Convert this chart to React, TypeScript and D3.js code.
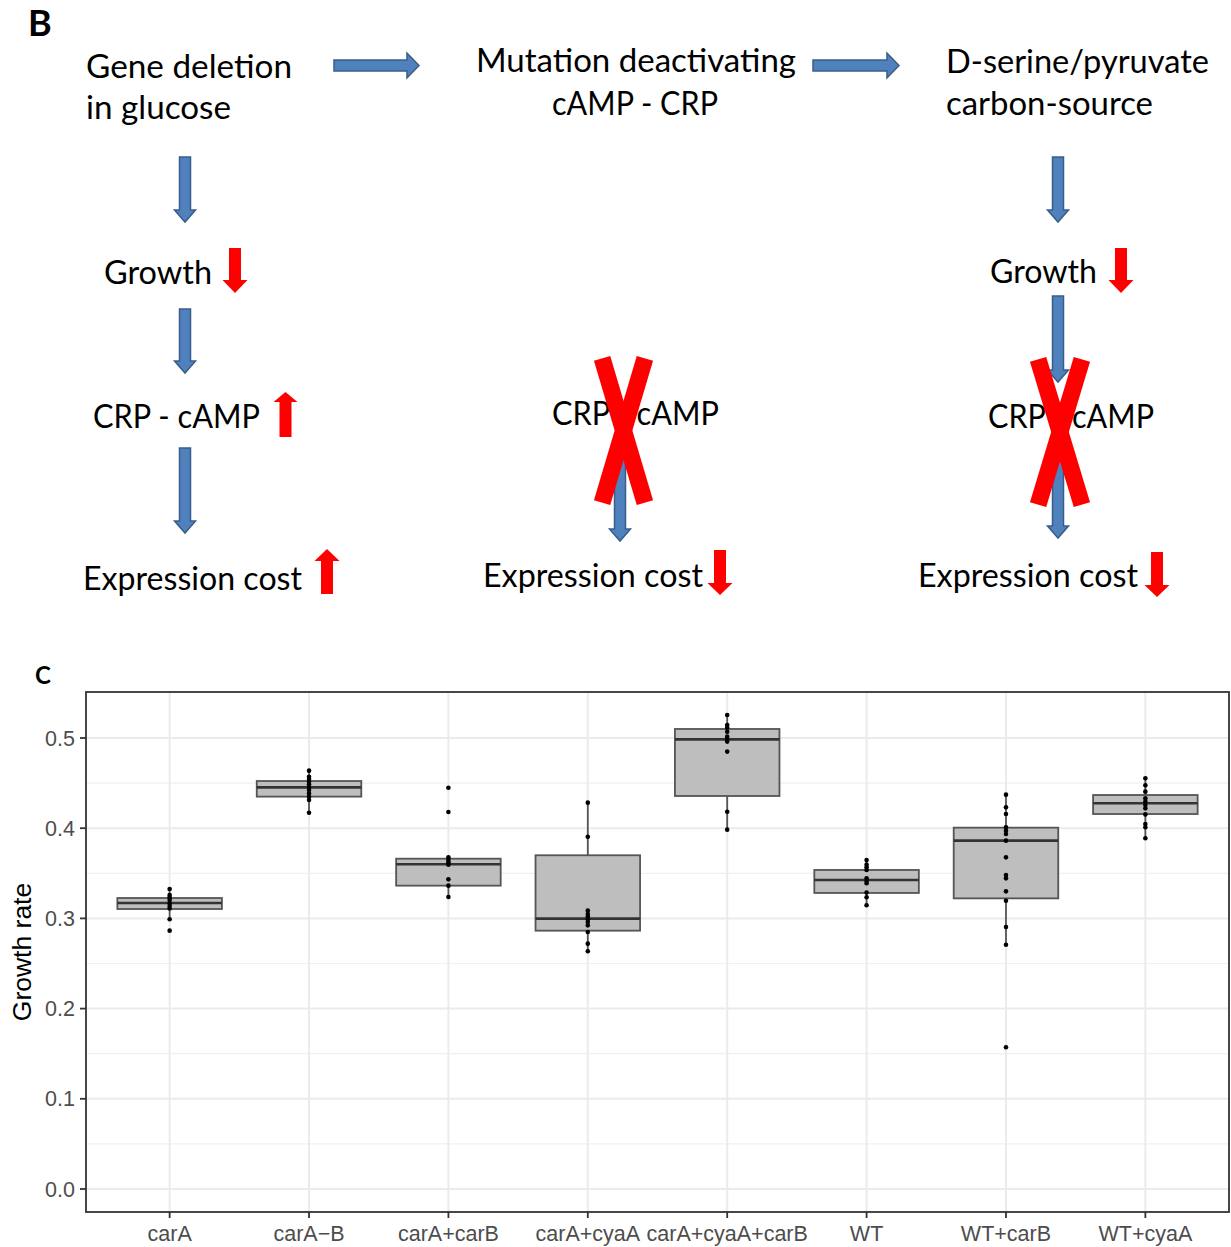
import React from 'react';
import * as d3 from 'd3';

// strains on the x axis
const categories = ['carA', 'carA\u2212B', 'carA+carB', 'carA+cyaA', 'carA+cyaA+carB', 'WT', 'WT+carB', 'WT+cyaA'];

// box statistics
const boxLower = [0.3104, 0.435, 0.3363, 0.2864, 0.4357, 0.3282, 0.3222, 0.4157];
const boxMedian = [0.317, 0.4453, 0.36, 0.2997, 0.4985, 0.3426, 0.3862, 0.4276];
const boxUpper = [0.3226, 0.4523, 0.3662, 0.37, 0.51, 0.3537, 0.4006, 0.4368];
const whiskerLow = [0.299, 0.4172, 0.3237, 0.2635, 0.3984, 0.3145, 0.2708, 0.3888];
const whiskerHigh = [0.3326, 0.4638, 0.3677, 0.4283, 0.5255, 0.3647, 0.4372, 0.4553];

// individual growth rate measurements
const pointValues = [
  [0.3326, 0.326, 0.3234, 0.3204, 0.3167, 0.3137, 0.311, 0.299, 0.2864],
  [0.4638, 0.4571, 0.4545, 0.4516, 0.4487, 0.4457, 0.4424, 0.4386, 0.435, 0.4313, 0.4172],
  [0.4449, 0.418, 0.3677, 0.3647, 0.3622, 0.3596, 0.3433, 0.3363, 0.3237],
  [0.4283, 0.3906, 0.3086, 0.3049, 0.302, 0.299, 0.296, 0.2923, 0.2849, 0.272, 0.2635],
  [0.5255, 0.5144, 0.5114, 0.507, 0.5015, 0.4985, 0.496, 0.4849, 0.4183, 0.3984],
  [0.3647, 0.3596, 0.3566, 0.3537, 0.3444, 0.3415, 0.339, 0.3286, 0.3234, 0.3145],
  [0.4372, 0.4231, 0.4157, 0.401, 0.3973, 0.3936, 0.3862, 0.3677, 0.3481, 0.3444, 0.33, 0.3196, 0.2905, 0.2708, 0.1571],
  [0.4553, 0.4475, 0.4405, 0.4331, 0.4295, 0.4257, 0.422, 0.4153, 0.4046, 0.401, 0.3888],
];

const majorTicks = [0, 0.1, 0.2, 0.3, 0.4, 0.5];
const minorTicks = [0.05, 0.15, 0.25, 0.35, 0.45];

// schematic (panel B)
const diagramText = [
  { t: 'Gene deletion', x: 86, y: 78, w: 206 },
  { t: 'in glucose', x: 86, y: 119, w: 145 },
  { t: 'Mutation deactivating', x: 476, y: 72, w: 320 },
  { t: 'cAMP - CRP', x: 552, y: 115, w: 166 },
  { t: 'D-serine/pyruvate', x: 946, y: 73, w: 263 },
  { t: 'carbon-source', x: 946, y: 115, w: 207 },
  { t: 'Growth', x: 104, y: 284, w: 108 },
  { t: 'Growth', x: 990, y: 283, w: 107 },
  { t: 'CRP - cAMP', x: 93, y: 428, w: 167 },
  { t: 'CRP - cAMP', x: 552, y: 425, w: 167 },
  { t: 'CRP - cAMP', x: 988, y: 428, w: 166 },
  { t: 'Expression cost', x: 83, y: 590, w: 219 },
  { t: 'Expression cost', x: 483, y: 587, w: 220 },
  { t: 'Expression cost', x: 918, y: 587, w: 220 },
];

// [x0, y0 (tail), x1, y1 (tip), shaft, head, headLen]
const blueArrows = [
  [334, 65.5, 419, 65.5, 11, 25, 12],
  [813, 65.5, 899, 65.5, 11, 25, 12],
  [185, 157, 185, 222, 11, 21, 12],
  [185, 309, 185, 373, 11, 21, 12],
  [185, 448, 185, 533, 11, 21, 12],
  [620, 448, 620, 541, 11, 21, 12],
  [1058, 157, 1058, 222, 11, 21, 12],
  [1058, 296, 1058, 382, 11, 21, 12],
  [1058, 448, 1058, 538, 11, 21, 12],
];
const redArrows = [
  [235, 248, 235, 293, 12, 25, 13],
  [1121, 248, 1121, 293, 12, 25, 13],
  [285.5, 437, 285.5, 392, 12, 24, 10],
  [327, 594, 327, 549, 12, 25, 12],
  [720, 550, 720, 595, 12, 25, 12],
  [1157, 552, 1157, 597, 12, 25, 12],
];
const crosses = [
  [594, 356, 653, 505],
  [1030, 357, 1090, 507],
];

function arrowPath(a: number[]) {
  const [x0, y0, x1, y1, sw, hw, hl] = a;
  const len = Math.hypot(x1 - x0, y1 - y0);
  const ux = (x1 - x0) / len, uy = (y1 - y0) / len;
  const nx = -uy, ny = ux;
  const bx = x1 - ux * hl, by = y1 - uy * hl;
  const pts = [
    [x0 + nx * sw / 2, y0 + ny * sw / 2],
    [bx + nx * sw / 2, by + ny * sw / 2],
    [bx + nx * hw / 2, by + ny * hw / 2],
    [x1, y1],
    [bx - nx * hw / 2, by - ny * hw / 2],
    [bx - nx * sw / 2, by - ny * sw / 2],
    [x0 - nx * sw / 2, y0 - ny * sw / 2],
  ];
  return 'M' + pts.map(p => p.join(',')).join('L') + 'Z';
}

const App = () => {
  const left = 86, right = 1229, top = 692, bottom = 1212;
  const x = d3.scalePoint().domain(categories).range([left, right]).padding(0.6);
  const y = d3.scaleLinear().domain([-0.0255, 0.551]).range([bottom, top]);
  const bw = x.step() * 0.75;
  const tickFont = { fontFamily: '"Liberation Sans", Arial, sans-serif', fontSize: 21.5, fill: '#4d4d4d' };

  return (
    <div style={{ position: 'absolute', left: 0, top: 0 }}>
      <svg width={1231} height={1247} style={{ display: 'block', background: '#fff' }}>
        {/* panel B */}
        <text x={28} y={36} style={{ fontFamily: 'Lato', fontWeight: 700, fontSize: 36 }}>B</text>
        {blueArrows.map((a, i) => (
          <path key={'b' + i} d={arrowPath(a)} fill="#4f81bd" stroke="#385d8a" strokeWidth={1.5} />
        ))}
        {diagramText.map((d, i) => (
          <text key={'t' + i} x={d.x} y={d.y} textLength={d.w} lengthAdjust="spacingAndGlyphs"
            style={{ fontFamily: 'Lato', fontSize: 32, fill: '#000' }}>{d.t}</text>
        ))}
        {redArrows.map((a, i) => (
          <path key={'r' + i} d={arrowPath(a)} fill="#ff0000" />
        ))}
        {crosses.map(([x0, y0, x1, y1], i) => (
          <g key={'x' + i} stroke="#ff0000" strokeWidth={17}>
            <line x1={x0 + 8.1} y1={y0 + 2.4} x2={x1 - 8.1} y2={y1 - 2.4} />
            <line x1={x1 - 8.1} y1={y0 + 2.4} x2={x0 + 8.1} y2={y1 - 2.4} />
          </g>
        ))}

        {/* panel C */}
        <text x={35} y={684} style={{ fontFamily: 'Lato', fontWeight: 700, fontSize: 24 }}>C</text>
        <rect x={left} y={top} width={right - left} height={bottom - top} fill="#fff" />
        {minorTicks.map(t => (
          <line key={'mi' + t} x1={left} x2={right} y1={y(t)} y2={y(t)} stroke="#f0f0f0" strokeWidth={1.2} />
        ))}
        {majorTicks.map(t => (
          <line key={'ma' + t} x1={left} x2={right} y1={y(t)} y2={y(t)} stroke="#ebebeb" strokeWidth={2} />
        ))}
        {categories.map(c => (
          <line key={'vg' + c} x1={x(c)} x2={x(c)} y1={top} y2={bottom} stroke="#ebebeb" strokeWidth={2} />
        ))}
        {categories.map((c, i) => {
          const cx = x(c) as number;
          return (
            <g key={'box' + c}>
              <line x1={cx} x2={cx} y1={y(whiskerHigh[i])} y2={y(boxUpper[i])} stroke="#555" strokeWidth={1.8} />
              <line x1={cx} x2={cx} y1={y(boxLower[i])} y2={y(whiskerLow[i])} stroke="#555" strokeWidth={1.8} />
              <rect x={cx - bw / 2} y={y(boxUpper[i])} width={bw} height={y(boxLower[i]) - y(boxUpper[i])}
                fill="#bebebe" stroke="#555" strokeWidth={1.8} />
              <line x1={cx - bw / 2} x2={cx + bw / 2} y1={y(boxMedian[i])} y2={y(boxMedian[i])} stroke="#333" strokeWidth={2.6} />
            </g>
          );
        })}
        {categories.map((c, i) => pointValues[i].map((v, j) => (
          <circle key={'p' + i + '-' + j} cx={x(c)} cy={y(v)} r={2.3} fill="#000" />
        )))}
        <rect x={left} y={top} width={right - left} height={bottom - top} fill="none" stroke="#333" strokeWidth={1.8} />
        {majorTicks.map(t => (
          <g key={'yt' + t}>
            <line x1={left - 6} x2={left} y1={y(t)} y2={y(t)} stroke="#333" strokeWidth={1.8} />
            <text x={left - 11} y={y(t)} dy="0.35em" textAnchor="end" style={tickFont}>{t.toFixed(1)}</text>
          </g>
        ))}
        {categories.map(c => (
          <g key={'xt' + c}>
            <line x1={x(c)} x2={x(c)} y1={bottom} y2={bottom + 6} stroke="#333" strokeWidth={1.8} />
            <text x={x(c)} y={1241} textAnchor="middle" style={tickFont}>{c}</text>
          </g>
        ))}
        <text transform={`translate(31,${(top + bottom) / 2}) rotate(-90)`} textAnchor="middle"
          style={{ fontFamily: '"Liberation Sans", Arial, sans-serif', fontSize: 26.5, fill: '#000' }}>Growth rate</text>
      </svg>
    </div>
  );
};

export default App;
